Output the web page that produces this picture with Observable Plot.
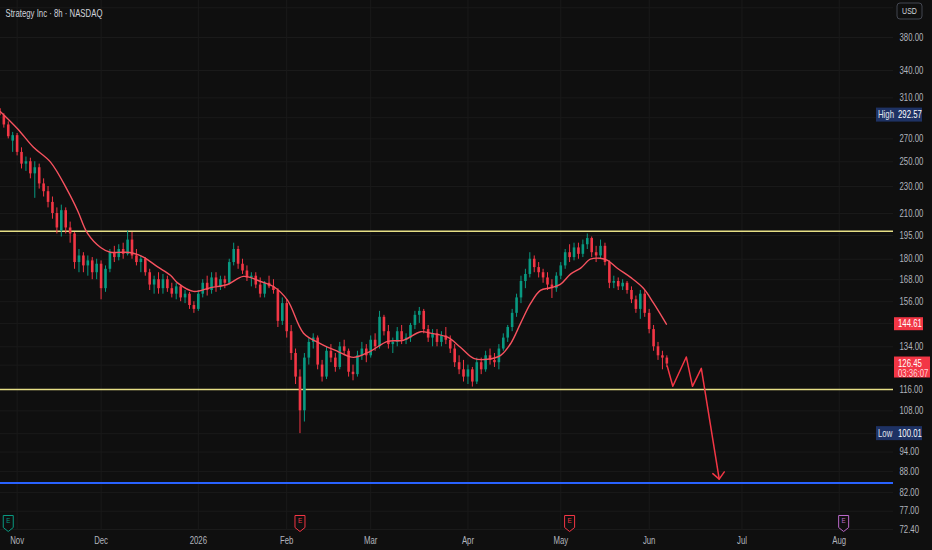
<!DOCTYPE html>
<html><head><meta charset="utf-8">
<script src="https://cdn.jsdelivr.net/npm/d3@7"></script>
<script src="https://cdn.jsdelivr.net/npm/@observablehq/plot@0.6"></script>
<style>
html,body{margin:0;padding:0;background:#0f0f0f;}
#chart{position:relative;width:932px;height:550px;}
</style></head><body><div id="chart"></div>
<script>
const FONT = "'Liberation Sans',Arial,sans-serif";
const title = "Strategy Inc · 8h · NASDAQ";

// trading-day index (0 = first trading day of Nov 2025), one candle per trading day
const firstDay = -4;
const opens = [299,292,283,268,273,258,248,250,240,245,232,226,218,210,198,212,200,196,178,182,176,179,172,
  177,163,174,184,181,186,183,192,182,178,180,172,165,168,163,168,163,160,164,158,160,154,
  152,160,166,162,169,164,168,166,178,186,177,173,169,170,165,160,166,164,162,146,
  155,141,131,121,108,129,136,138,126,121,132,129,125,134,132,123,122,130,133,
  130,137,134,148,141,135,136,141,137,138,144,149,151,142,138,140,136,139,137,133,127,124,
  121,124,119,127,124,130,128,127,133,138,143,150,158,167,171,180,175,172,169,165,163,
  170,176,184,181,187,183,189,193,184,182,188,178,166,167,164,166,162,157,152,160,
  150,142,134,130,129];
const highs = [303,294,286,276,275,262,254,253,250,248,236,230,222,214,216,214,204,197,186,184,182,181,180,
  179,176,186,188,189,190,198,197,186,182,181,174,170,172,171,170,166,166,165,162,161,156,
  162,168,170,172,172,170,170,180,190,188,180,176,172,172,169,167,170,168,163,158,
  157,144,133,124,131,138,140,139,128,134,135,131,136,137,133,126,132,136,135,
  139,140,151,149,144,138,143,144,140,145,151,153,152,144,142,142,141,143,139,135,130,128,
  126,125,129,129,132,133,131,135,140,144,152,160,170,174,184,182,178,174,172,168,
  172,178,186,189,190,190,192,196,194,188,192,190,179,170,169,168,167,164,159,162,
  162,152,144,136,132,130];
const lows = [290,280,270,258,255,244,242,236,221,228,222,214,206,196,194,196,190,174,172,172,170,168,168,
  157,161,172,178,179,180,182,180,176,172,170,162,160,160,160,161,158,157,156,155,152,150,
  151,158,159,160,161,162,163,165,176,174,171,167,164,163,158,158,163,160,143,144,
  138,128,118,100.01,104,126,133,124,119,120,127,123,124,130,121,119.5,121,128,127,
  129,132,133,139,133,131,134,135,135,136,142,145,140,136,134,134,134,135,131,125,122,119,
  118,117,118,122,123,126,125,124,132,136,141,148,155,163,169,172,169,166,162,157.7,
  161,168,174,178,179,180,181,186,181,178,180,176,163,163,162,162,160,155,150,147,
  148,140,132,128,124,125];
const closes = [292,283,272,273,258,248,250,240,245,232,226,218,210,200,212,200,196,178,182,176,179,172,177,
  163,174,184,181,186,183,192,182,178,180,172,165,168,163,168,163,160,164,158,160,154,152,
  160,166,162,169,164,168,166,178,186,177,173,169,170,165,160,166,164,162,146,155,
  141,131,121,108,129,136,138,126,121,132,129,125,134,132,123,122,130,133,130,
  137,134,148,141,135,136,141,137,138,144,149,151,142,138,140,136,139,137,133,127,124,121,
  124,119,127,124,130,128,127,133,138,143,150,158,167,171,180,175,172,169,165,163,170,
  176,184,181,187,183,189,193,184,182,188,178,166,167,164,166,162,157,152,160,150,
  142,134,130,129,126.45];

// moving average line
const maDay = [-3.76,0.09,3.71,7.56,11.4,13.7,15.9,18.9,21.1,24.1,26.3,28.6,31.8,34.7,36.3,39.9,43.8,47.6,51.2,55.1,58.0,61.2,64.8,68.6,72.5,76.1,79.9,83.8,87.4,91.3,93.5,97.4,100.3,103.3,106.4,109.4,111.7,113.9,116.2,118.4,120.7,122.9,125.2,127.5,129.7,131.9,133.6,135.8,138.8,141.7,144.0,146.9];
const maVal = [296,279.5,262.5,249.7,227,212,196.6,187.3,184.3,184.3,183.7,181.3,175.4,170.5,166.2,161.5,163.6,165.3,169.9,167,164.2,156.7,140.3,135.5,132,129.3,132,136.5,137,141,140.3,138.4,133.8,128.9,128.5,130.2,135.6,145,155.2,162.1,163.5,165.4,171.2,174.7,180,180.6,179.3,174.6,169.3,163.2,155.2,144.61];

// projected path drawing
const projDay = [147.08,148.35,151.4,152.8,154.8,158.85];
const projVal = [125.6,117.3,129.5,117.3,124.6,85.8];
const headDay = [157.4,158.85,160.0];
const headVal = [87.4,85.8,87.9];

// horizontal levels
const resistance = 197.8, support = 116, target = 84.7;

// axes
const monthTicks = [0,19,41,61,80,102,123,143,164,186];
const monthLabels = ["Nov","Dec","2026","Feb","Mar","Apr","May","Jun","Jul","Aug"];
const priceLabels = [380,340,310,270,250,230,210,195,180,168,156,134,116,108,94,88,82,77,72.4];
const priceGrid = [420,380,340,310,290,270,250,230,210,195,180,168,156,145,134,126,116,108,100,94,88,82,77,72.4];

// earnings markers
const earnDay = [-2,64,125,187];
const earnColor = ["#089981","#f23645","#f23645","#ba68c8"];

// price badges
const badgePrice = [292.57,100.01,144.61,126.45];
const badgeText = ["292.57","100.01","144.61","126.45"];
const badgeTag = ["High","Low","",""];
const badgeSub = ["","","","03:36:07"];

const GREEN = "#089981", RED = "#f23645";
const candles = opens.map((o,k)=>({i:firstDay+k, open:o, high:highs[k], low:lows[k], close:closes[k], c: closes[k]>=o?GREEN:RED}));
const ma = maDay.map((d,k)=>({i:d, v:maVal[k]}));
const proj = projDay.map((d,k)=>({i:d, v:projVal[k]}));
const head = headDay.map((d,k)=>({i:d, v:headVal[k]}));
const earnings = earnDay.map((d,k)=>({i:d, c:earnColor[k]}));
const badges = badgePrice.map((p,k)=>({p, t:badgeText[k], tag:badgeTag[k], sub:badgeSub[k]}));

const tagSymbol = {draw(ctx){ctx.moveTo(-5,-8);ctx.lineTo(5,-8);ctx.lineTo(5,4);ctx.lineTo(0,8);ctx.lineTo(-5,4);ctx.closePath();}};

function badgeMark(index, scales, values, dim){
  const g = d3.create("svg:g").attr("font-family", FONT).attr("font-size", 10).attr("text-anchor", "start");
  const x0 = dim.width - dim.marginRight;
  // USD box
  g.append("rect").attr("x", x0+4).attr("y", 3).attr("width", 25).attr("height", 16).attr("rx", 3)
    .attr("fill", "#0f0f0f").attr("stroke", "#434651");
  g.append("text").attr("x", x0+16.5).attr("y", 11).attr("dy", "0.35em").attr("text-anchor", "middle")
    .attr("fill", "#d1d4dc").attr("font-size", 9).text("USD");
  for (const b of badges){
    const y = scales.y(b.p);
    if (b.tag){
      g.append("rect").attr("x", x0-17).attr("y", y-7).attr("width", 46).attr("height", 14).attr("fill", "#1e3264");
      g.append("text").attr("x", x0-15).attr("y", y).attr("dy","0.35em").attr("fill","#e0e3eb").text(b.tag);
      g.append("text").attr("x", x0+5).attr("y", y).attr("dy","0.35em").attr("fill","#ffffff").text(b.t);
    } else if (b.sub){
      g.append("rect").attr("x", x0+1).attr("y", y-7).attr("width", 36).attr("height", 21).attr("fill", RED);
      g.append("text").attr("x", x0+5).attr("y", y).attr("dy","0.35em").attr("fill","#ffffff").text(b.t);
      g.append("text").attr("x", x0+5).attr("y", y+10).attr("dy","0.35em").attr("fill","#ffd6da").text(b.sub);
    } else {
      g.append("rect").attr("x", x0+1).attr("y", y-6.5).attr("width", 29).attr("height", 13).attr("fill", RED);
      g.append("text").attr("x", x0+5).attr("y", y).attr("dy","0.35em").attr("fill","#ffffff").text(b.t);
    }
  }
  return g.node();
}

const chart = Plot.plot({
  width: 932, height: 550,
  marginLeft: 0, marginRight: 39, marginTop: 0, marginBottom: 20,
  style: {background:"#0f0f0f", color:"#b2b5be", fontFamily: FONT, fontSize:"10px", overflow:"visible"},
  x: {domain: [-3.756, 198.28]},
  y: {type: "log", domain: [72.4, 380], range: [529, 37]},
  color: {type: "identity"},
  marks: [
    Plot.gridY(priceGrid, {stroke:"#1a1a1a", strokeOpacity:1}),
    Plot.gridX(monthTicks, {stroke:"#1a1a1a", strokeOpacity:1}),
    Plot.ruleY([resistance, support], {stroke:"#e6df86", strokeWidth:1.5}),
    Plot.ruleY([target], {stroke:"#2962ff", strokeWidth:2}),
    Plot.ruleX(candles, {x:"i", y1:"low", y2:"high", stroke:"c", strokeWidth:1, clip:true}),
    Plot.ruleX(candles, {x:"i", y1:"open", y2:"close", stroke:"c", strokeWidth:2.6, clip:true}),
    Plot.line(ma, {x:"i", y:"v", stroke:"#f7525f", strokeWidth:1.4, curve:"catmull-rom", clip:true}),
    Plot.line(proj, {x:"i", y:"v", stroke:RED, strokeWidth:1.5}),
    Plot.line(head, {x:"i", y:"v", stroke:RED, strokeWidth:1.5}),
    Plot.axisY(priceLabels, {anchor:"right", tickFormat: d=>d.toFixed(2), tickSize:0, tickPadding:6, label:null, fill:"#b2b5be"}),
    Plot.axisX(monthTicks, {anchor:"bottom", tickFormat: d=>monthLabels[monthTicks.indexOf(d)], tickSize:0, tickPadding:6, label:null, fill:"#b2b5be"}),
    Plot.dot(earnings, {x:"i", frameAnchor:"bottom", dy:-7, symbol: tagSymbol, stroke:"c", fill:"#0f0f0f", strokeWidth:1}),
    Plot.text(earnings, {x:"i", text: ()=>"E", frameAnchor:"bottom", dy:-8, fill:"c", fontSize:8}),
    Plot.text([title], {text: d=>d, frameAnchor:"top-left", dx:5, dy:9, textAnchor:"start", fill:"#d1d4dc", fontSize:10}),
    badgeMark
  ]
});

// condense all text horizontally around its own x anchor (the reference uses a narrow UI font)
d3.select(chart).selectAll("text").each(function(){
  const t = d3.select(this);
  const xa = t.attr("x");
  const x = (xa && /^-?[\d.]+$/.test(xa)) ? +xa : 0;
  const prev = t.attr("transform") || "";
  t.attr("transform", `${prev} translate(${x},0) scale(0.78,1) translate(${-x},0)`);
});
document.getElementById("chart").appendChild(chart);
</script></body></html>
